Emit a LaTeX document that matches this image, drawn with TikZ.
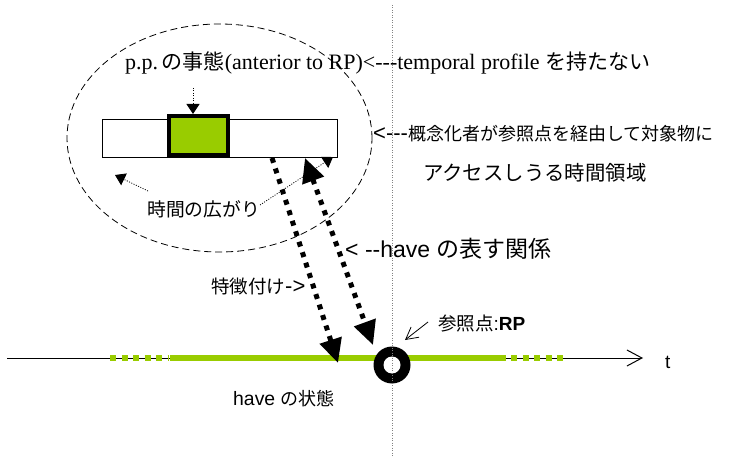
\documentclass[tikz,border=0pt]{standalone}
\usepackage{fontspec}
\setmainfont[Ligatures=TeXOff]{Liberation Serif}
\setsansfont[Ligatures=TeXOff]{Liberation Sans}
\newfontfamily\jp{Noto Sans CJK JP}
\usetikzlibrary{arrows.meta,shapes.geometric}
\definecolor{limegreen}{RGB}{153,204,0}
\definecolor{guide}{RGB}{130,130,130}
\newcommand\fsz[1]{\fontsize{#1}{#1}\selectfont}
\begin{document}
\begin{tikzpicture}[x=1pt,y=-1pt,
  txt/.style={inner sep=0pt, anchor=base west},
  thindot/.style={line width=0.8pt, dash pattern=on 1pt off 1.5pt},
  smallhead/.style={-{Triangle[length=10pt,width=13pt]}},
  thickdot/.style={line width=5pt, dash pattern=on 5pt off 6pt},
  greenline/.style={limegreen, line width=5.5pt},
  greendash/.style={limegreen, line width=5.5pt, dash pattern=on 6pt off 5.5pt}
]
\useasboundingbox (0,0) rectangle (747,457);

% dashed region
\node[ellipse, draw, dashed, dash pattern=on 7pt off 4pt, line width=0.8pt,
      minimum width=305pt, minimum height=228pt, inner sep=0pt] (region) at (219.5,138) {};

% time bar
\node[draw, fill=white, line width=0.8pt, minimum width=235pt, minimum height=38pt, inner sep=0pt] (bar) at (219.5,138) {};
\node[draw, fill=limegreen, line width=4.5pt, minimum width=59pt, minimum height=39pt, inner sep=0pt] (ppbox) at (198.5,135.5) {};

% time axis
\coordinate (axL) at (7,358);
\coordinate (axR) at (643,358);
\draw[line width=1pt, -{Straight Barb[length=15pt,width=16pt,line width=1pt]}] (axL) -- (axR);
\coordinate (g1) at (110,358); \coordinate (g2) at (168,358);
\coordinate (g3) at (170,358); \coordinate (g4) at (506,358);
\coordinate (g5) at (511,358); \coordinate (g6) at (568,358);
\draw[greendash] (g1) -- (g2);
\draw[greenline] (g3) -- (g4);
\draw[greendash] (g5) -- (g6);

% reference point (ring)
\coordinate (rp) at (392,365);
\fill[black] (rp) circle [radius=18.5pt];
\fill[white] (rp) circle [radius=8.5pt];

% texts
\node[txt] (top) at (125,70) {\fsz{22}p.p.\,{\jp\fsz{21}の事態}(anterior to RP)<---temporal profile {\jp\fsz{21}を持たない}};
\node[txt] (acc1) at (373,141) {\sffamily\fsz{22}<---{\jp\fsz{18}概念化者が参照点を経由して対象物に}};
\node[txt] (acc2) at (423,181) {\jp\fsz{20.4}アクセスしうる時間領域};
\node[txt] (spread) at (147,217) {\jp\fsz{18.8}時間の広がり};
\node[txt] (havrel) at (345,258) {\sffamily\fsz{23}< --have {\jp\fsz{23}の表す関係}};
\node[txt] (char) at (211,293) {{\jp\fsz{18.5}特徴付け}\sffamily\fsz{22}->};
\node[txt] (rplab) at (438,330) {{\jp\fsz{18.5}参照点}\sffamily\fsz{19}:\textbf{RP}};
\node[txt] (tlab) at (665,368) {\sffamily\fsz{19}t};
\node[txt] (state) at (233,405) {\sffamily\fsz{19.4}have {\jp\fsz{18}の状態}};

% thin dotted arrows
\coordinate (pp1) at (193,88); \coordinate (pp2) at (193,114);
\draw[thindot, smallhead] (pp1) -- (pp2);
\coordinate (sp1) at (148,191); \coordinate (sp2) at (115,175);
\draw[thindot, smallhead] (sp1) -- (sp2);
\coordinate (sp3) at (260,205); \coordinate (sp4) at (333,157);
\draw[thindot, smallhead] (sp3) -- (sp4);

% thick dotted arrows
\coordinate (a1) at (272,158); \coordinate (a2) at (338,363);
\draw[thickdot, -{Triangle[length=24pt,width=22pt]}] (a1) -- (a2);
\coordinate (b1) at (305,158); \coordinate (b2) at (373,345);
\draw[thickdot, {Triangle[length=24pt,width=22pt]}-{Triangle[length=24pt,width=22pt]}] (b1) -- (b2);

% RP pointer
\coordinate (r1) at (428,322); \coordinate (r2) at (405,340);
\draw[line width=0.8pt, -{Straight Barb[length=12pt,width=13pt,line width=0.8pt]}] (r1) -- (r2);

% vertical guide
\coordinate (v1) at (392,5); \coordinate (v2) at (392,457);
\draw[guide, line width=0.8pt, dash pattern=on 1pt off 1.5pt] (v1) -- (v2);
\end{tikzpicture}
\end{document}
